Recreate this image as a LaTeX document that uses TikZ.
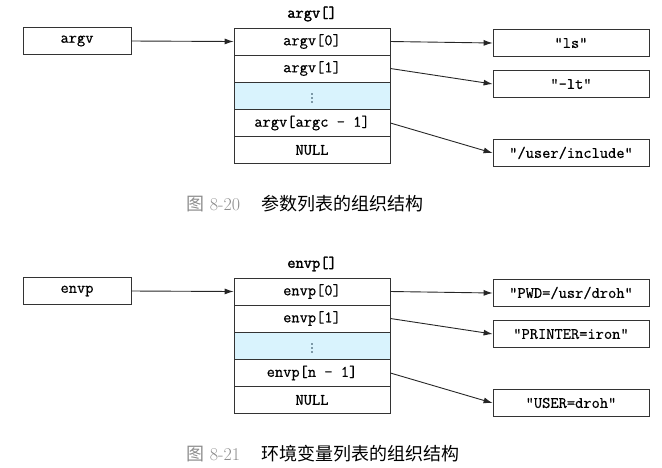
\documentclass[tikz,border=0pt]{standalone}
\usepackage{fontspec}
\usetikzlibrary{arrows.meta}
\newfontfamily\cjk{Noto Sans CJK SC}
\setmonofont{Latin Modern Mono}[FakeBold=0.6]
\newfontfamily\monob{Latin Modern Mono}[FakeBold=2]
\newcommand\mypanel[9]{%
\begin{scope}[yshift=-#1pt]
  \node[box,minimum width=108pt] (#2) at (77,41) {#2};
  \node[font=\monob\fontsize{16}{16}\selectfont] (#2t) at (312,14) {#6};
  \node[box,minimum width=156pt] (#20) at (312,41.5) {#3};
  \node[box,minimum width=156pt] (#21) at (312,68.5) {#4};
  \node[box,minimum width=156pt,fill=cyan!15,text=cyan!40!black] (#22) at (312,96) {\raisebox{2pt}{$\vdots$}};
  \node[box,minimum width=156pt] (#23) at (312,123) {#5};
  \node[box,minimum width=156pt] (#24) at (312,150) {NULL};
  \node[box,minimum width=156pt] (#2s0) at (571,43) {"#7"};
  \node[box,minimum width=156pt] (#2s1) at (571,84) {"#8"};
  \node[box,minimum width=156pt] (#2s2) at (571,153) {"#9"};
  \draw[arr] (#2.east) -- (#20.west);
  \draw[arr] (#20.east) -- (#2s0.west);
  \draw[arr] (#21.east) -- (#2s1.west);
  \draw[arr] (#23.east) -- (#2s2.west);
  \node[captext] (#2c) at (183,204) {\textcolor{black!45}{{\cjk 图} 8-\capnum}\hspace{1.2em}{\cjk \captxt}};
\end{scope}}
\begin{document}
\begin{tikzpicture}[x=1pt,y=-1pt,
  box/.style={draw=black!80,line width=0.8pt,minimum height=27pt,inner sep=0pt,font=\ttfamily\fontsize{16}{16}\selectfont},
  arr/.style={draw=black!85,line width=0.9pt,-{Latex[length=9pt,width=6pt]}},
  captext/.style={font=\fontsize{18}{18}\selectfont,anchor=west}]
\useasboundingbox (0,0) rectangle (662,467);
\def\capnum{20}\def\captxt{参数列表的组织结构}
\mypanel{0}{argv}{argv[0]}{argv[1]}{argv[argc - 1]}{argv[]}{ls}{-lt}{/user/include}
\def\capnum{21}\def\captxt{环境变量列表的组织结构}
\mypanel{250}{envp}{envp[0]}{envp[1]}{envp[n - 1]}{envp[]}{PWD=/usr/droh}{PRINTER=iron}{USER=droh}
\end{tikzpicture}
\end{document}
